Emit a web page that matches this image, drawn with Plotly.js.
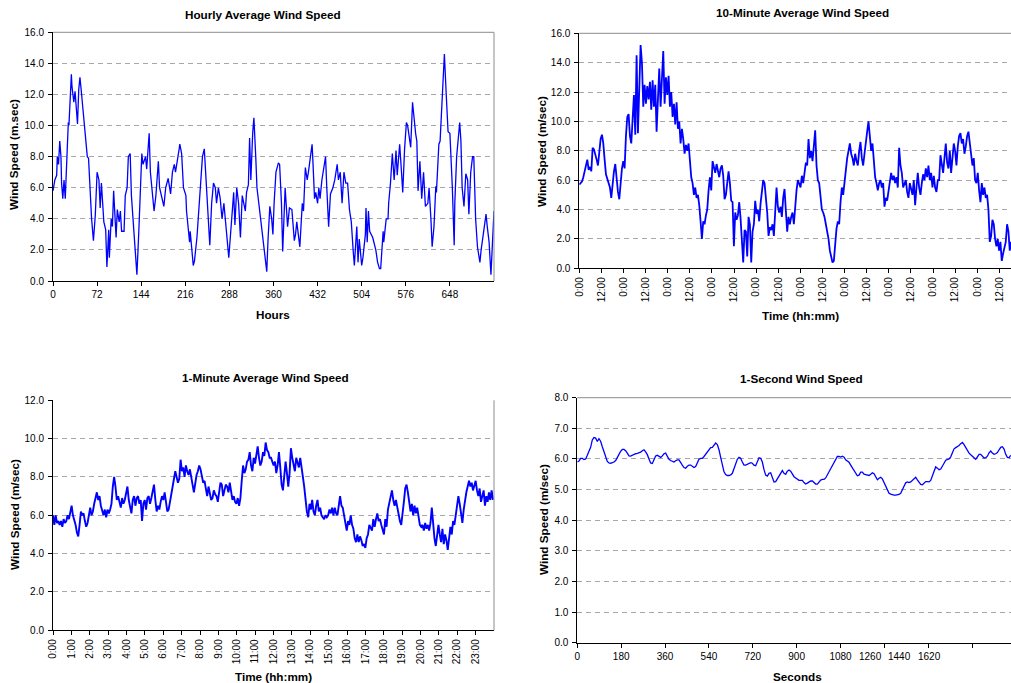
<!DOCTYPE html>
<html>
<head>
<meta charset="utf-8">
<script src="https://cdn.plot.ly/plotly-3.0.1.min.js"></script>
<style>html,body{margin:0;padding:0;background:#fff;}#chart{width:1011px;height:683px;}</style>
</head>
<body>
<div id="chart"></div>
<script>
// ---------------- DATA ----------------
// Hourly average wind speed (hour index, m/sec)
const hourlyHours = [
  0,3,6,7,9,11,13,14,16,18,20,22,25,26,28,30,31,34,36,40,
  42,44,46,51,54,56,58,61,63,66,69,72,75,77,79,83,86,88,91,92,
  95,97,99,103,105,108,110,112,116,118,121,123,126,128,131,134,137,140,142,145,
  147,151,153,157,159,162,165,168,172,174,178,181,184,188,192,195,198,200,206,207,
  210,213,217,218,223,224,229,231,235,237,241,244,247,251,256,259,262,265,267,270,
  273,276,279,287,289,295,297,300,303,306,309,314,316,319,321,323,326,328,331,333,
  336,339,343,345,346,349,351,354,357,359,361,364,368,370,373,375,379,383,386,390,
  394,396,398,400,403,407,409,412,415,417,420,423,424,427,429,432,434,436,439,443,
  445,447,450,453,457,460,464,466,469,472,475,478,481,484,487,490,492,496,498,500,
  504,506,510,511,513,515,517,522,527,530,533,535,539,540,544,547,548,551,554,557,
  560,562,566,569,571,574,577,579,584,587,589,592,594,596,599,602,605,608,612,614,
  617,619,622,625,626,630,632,636,639,642,645,648,650,652,655,656,659,664,666,668,
  671,674,677,679,682,685,687,690,693,697,699,703,707,709,712,715,717,720
];
const hourlySpeed = [
  5.8,6.5,6.8,8.0,7.5,9.0,8.0,6.3,5.3,6.5,5.3,7.0,10.2,10.0,11.5,13.3,12.5,11.5,12.2,10.1,
  12.3,13.1,12.3,10.2,9.0,8.0,7.9,5.3,4.0,2.6,4.2,7.0,6.5,4.7,6.3,3.8,3.3,0.9,3.3,1.5,
  4.0,3.5,5.8,2.8,4.6,3.8,4.5,3.2,3.2,5.5,6.0,8.0,8.2,5.5,3.8,2.0,0.4,3.1,5.0,8.2,
  7.5,8.0,7.2,9.5,7.0,5.7,4.5,5.5,7.7,6.0,5.4,4.8,6.0,6.6,5.6,7.0,7.5,7.0,8.5,8.8,
  8.2,6.0,5.5,4.5,2.5,3.2,1.0,1.3,2.8,4.0,6.0,8.0,8.5,5.5,2.3,5.0,6.3,6.0,5.0,6.0,
  5.3,4.0,5.0,1.5,2.5,5.7,3.6,6.0,5.0,2.8,5.5,4.5,5.7,6.2,9.2,6.5,9.5,10.5,8.0,6.0,
  5.0,4.0,2.5,2.0,1.5,0.6,2.6,4.8,4.0,3.0,5.0,7.0,7.6,7.5,5.0,1.9,6.0,3.5,4.7,4.6,
  2.6,3.0,3.8,3.2,2.2,5.0,4.5,7.3,6.5,7.0,8.0,8.8,8.0,5.3,5.7,5.0,6.0,5.3,6.5,7.5,
  8.0,6.0,3.5,5.6,6.0,6.5,7.5,6.5,7.0,5.0,7.0,6.3,6.3,4.6,3.8,2.0,1.0,3.5,1.2,2.7,
  1.0,1.5,3.0,4.7,2.5,4.5,3.2,2.8,2.0,1.2,0.8,0.8,3.2,2.5,4.0,4.0,5.0,6.3,8.2,6.5,
  8.4,6.8,8.8,7.0,5.7,8.5,10.2,10.0,8.6,11.5,10.5,9.5,9.0,5.8,7.7,5.3,7.0,4.8,5.0,6.0,
  4.0,2.2,3.5,6.1,5.7,8.8,9.0,12.0,14.6,12.0,9.6,9.5,7.8,6.0,2.3,5.0,8.0,10.2,9.0,6.0,
  4.8,6.9,6.5,4.3,7.0,8.0,8.0,4.0,2.2,1.2,2.0,3.0,4.3,3.5,2.5,0.4,2.5,4.5
];
const hourTicks = [0,72,144,216,288,360,432,504,576,648];

// 10-minute average wind speed, sampled every tenMinStepHours hours from 0:00 of day 1
const tenMinStepHours = 0.7233;
const tenMinSpeed = [
  5.7,5.8,5.9,6.2,6.6,7.0,7.4,6.7,6.9,6.6,8.2,8.1,7.8,7.4,7.0,8.2,8.8,9.1,8.5,7.4,
  6.4,6.1,5.8,5.5,4.8,5.8,6.6,7.1,5.8,5.2,4.7,5.8,6.8,7.3,6.8,
  9.0,10.3,10.5,9.0,8.5,10.8,11.8,9.1,14.5,9.2,13.0,15.2,14.0,
  11.0,12.5,11.2,12.4,11.5,12.7,10.8,12.8,11.0,12.5,
  9.3,11.5,13.6,11.0,12.8,14.8,11.2,13.0,11.8,13.1,
  11.0,12.0,10.3,11.2,9.8,11.3,9.5,10.0,8.5,9.5,
  8.8,7.8,8.4,8.0,8.5,7.5,6.2,5.8,5.0,5.5,
  4.8,5.0,4.3,3.2,2.0,3.2,3.0,3.6,4.0,5.3,
  6.2,5.3,7.3,6.9,6.5,7.1,6.6,6.2,6.8,7.0,
  6.3,4.7,5.0,5.9,6.6,5.8,4.6,4.5,1.5,3.8,
  3.3,3.6,4.5,3.4,1.5,0.4,2.6,2.5,0.8,3.5,
  3.0,0.4,2.5,3.0,4.6,3.7,4.0,3.2,4.4,5.2,
  6.0,5.8,5.0,3.8,2.2,2.8,2.6,3.0,2.2,4.2,
  5.5,4.2,3.8,4.2,3.5,4.8,5.4,3.9,2.5,3.5,
  3.0,3.5,
  3.8,3.0,4.5,5.3,6.0,5.8,5.5,6.3,5.8,6.5,7.2,7.0,8.8,
  7.5,8.0,7.3,8.2,9.4,7.0,6.0,5.8,5.0,4.0,
  3.8,3.5,3.0,2.5,2.0,1.2,0.7,0.4,0.5,2.0,
  2.7,3.2,3.0,4.5,5.5,5.0,6.0,6.8,7.5,8.0,
  8.5,7.8,7.5,7.0,7.8,7.3,7.0,8.0,8.6,7.5,
  7.0,7.8,8.8,9.3,10.0,9.0,8.0,8.5,7.5,6.2,
  5.8,5.3,5.8,6.0,5.5,5.8,4.2,4.8,4.6,5.2,
  5.8,6.5,6.0,6.3,5.8,6.2,5.5,8.2,7.0,6.5,
  5.5,5.8,6.0,5.2,4.8,5.8,5.3,5.0,6.0,4.3,
  5.5,6.5,5.5,5.0,5.8,6.4,6.0,6.8,6.2,7.0,
  6.0,6.5,5.5,6.3,5.5,5.2,6.0,6.0,7.7,7.2,
  6.5,7.5,8.5,7.2,6.8,8.0,6.5,7.5,8.5,8.0,
  7.0,8.3,9.0,9.2,8.5,8.8,7.8,8.3,9.0,9.3,
  8.5,8.0,7.0,7.5,6.0,5.8,6.5,5.3,4.5,5.8,
  5.0,5.5,4.8,5.0,4.0,1.8,2.2,3.3,3.0,2.0,
  1.5,2.0,1.2,1.8,0.5,1.0,1.5,1.8,3.0,2.5,
  1.2,1.8
];
const tenMinTickHours = [0,12,24,36,48,60,72,84,96,108,120,132,144,156,168,180,192,204,216,228];
const tenMinTickLabels = ['0:00','12:00','0:00','12:00','0:00','12:00','0:00','12:00','0:00','12:00',
                          '0:00','12:00','0:00','12:00','0:00','12:00','0:00','12:00','0:00','12:00'];

// 1-minute average wind speed, sampled every oneMinStepMinutes minutes over one day
const oneMinStepMinutes = 4.34;
const oneMinSpeed = [
  6.0,5.5,6.0,5.6,5.7,5.5,5.7,5.4,5.8,5.6,
  5.7,6.0,5.8,6.2,6.5,6.0,5.8,5.5,5.1,4.9,
  5.5,6.2,6.0,6.1,5.7,5.4,5.6,6.0,6.4,6.0,
  6.2,6.6,7.0,7.2,6.8,7.0,6.5,6.2,6.0,6.3,
  5.9,6.3,6.1,6.3,6.6,7.5,8.0,7.5,6.8,7.0,
  6.7,6.4,6.9,6.6,6.8,7.2,7.5,6.8,6.4,6.1,
  6.8,7.0,6.5,6.9,7.0,6.6,6.8,5.7,6.6,6.8,
  6.3,6.9,7.0,6.6,6.9,7.2,7.6,6.8,6.2,6.5,
  6.3,6.7,7.0,6.8,7.2,6.7,6.2,6.3,6.7,7.0,
  7.5,8.0,8.3,8.0,7.7,7.9,8.9,8.3,8.5,8.0,
  8.6,8.3,8.1,8.4,7.9,7.6,7.2,7.7,8.1,8.3,
  8.6,8.4,8.0,7.7,7.8,7.3,7.0,7.5,7.1,6.8,
  6.9,7.3,7.1,7.0,6.7,7.3,7.7,7.6,7.0,7.3,
  7.6,7.5,7.2,7.7,7.1,6.8,7.0,6.7,6.6,6.9,
  6.5,6.9,7.8,8.6,8.2,8.4,8.8,8.9,9.3,8.6,
  8.3,9.0,8.7,9.2,9.6,9.0,8.6,8.8,9.3,9.1,
  9.8,9.4,9.3,9.0,
  9.0,8.8,8.6,8.8,8.2,8.6,9.3,8.5,7.6,7.3,
  8.0,8.8,8.2,7.5,8.2,9.5,9.0,8.7,8.3,9.0,
  8.8,8.5,9.0,8.6,8.0,7.5,6.7,6.2,5.9,6.6,
  6.3,6.8,6.2,6.0,6.5,6.8,6.2,6.4,6.0,5.9,
  5.8,6.0,5.9,6.0,6.3,6.1,6.4,6.0,6.4,6.1,
  6.0,6.5,7.0,6.5,6.4,6.0,5.5,5.2,5.7,5.5,
  6.0,5.5,5.3,4.8,4.6,5.0,4.6,4.9,4.7,4.4,
  4.5,4.3,4.8,5.0,5.5,5.3,5.2,5.8,5.4,5.8,
  6.1,5.7,5.8,5.5,5.2,5.0,5.8,5.4,6.3,6.7,
  7.1,7.3,6.8,6.5,6.8,6.4,5.9,5.7,5.5,6.0,
  6.7,7.4,7.6,7.2,6.8,6.2,6.6,6.0,6.5,6.1,
  6.4,6.0,5.5,5.4,5.5,5.2,5.6,5.3,5.5,5.2,
  5.6,6.4,5.5,4.8,4.4,5.0,5.5,5.0,4.6,5.3,
  4.5,5.0,4.7,4.2,4.8,5.4,5.0,5.7,5.5,6.0,
  6.5,7.0,6.6,6.0,5.6,6.3,6.8,7.2,7.5,7.8,
  7.5,7.7,7.3,7.6,7.8,7.3,7.0,7.4,6.7,7.0,
  7.3,6.5,7.0,6.7,7.2,6.8,7.3,6.8
];
const oneMinTickMinutes = [0,60,120,180,240,300,360,420,480,540,600,660,720,780,840,900,960,1020,1080,1140,1200,1260,1320,1380];
const oneMinTickLabels = ['0:00','1:00','2:00','3:00','4:00','5:00','6:00','7:00','8:00','9:00','10:00','11:00',
                          '12:00','13:00','14:00','15:00','16:00','17:00','18:00','19:00','20:00','21:00','22:00','23:00'];

// 1-second wind speed, sampled every oneSecStepSeconds seconds
const oneSecStepSeconds = 6.84;
const oneSecSpeed = [
  5.9,5.93,6.02,6.02,5.98,6.0,6.12,6.25,6.38,6.62,
  6.7,6.68,6.57,6.66,6.58,6.4,6.23,6.07,5.92,5.87,
  5.86,5.88,5.9,5.95,6.03,6.15,6.25,6.31,6.31,6.27,
  6.19,6.1,6.09,6.12,6.16,6.17,6.18,6.2,6.22,6.27,
  6.3,6.23,6.14,6.0,5.87,5.85,5.97,6.1,6.12,6.07,
  6.05,6.1,6.17,6.19,6.1,5.99,5.95,5.92,5.9,5.94,
  5.97,5.97,5.9,5.8,5.72,5.7,5.76,5.8,5.8,5.77,
  5.72,5.75,5.89,5.99,6.02,6.02,6.08,6.16,6.25,6.33,
  6.37,6.38,6.46,6.52,6.47,6.3,6.05,5.75,5.58,5.49,
  5.46,5.46,5.48,5.53,5.67,5.85,5.99,6.05,6.02,5.9,
  5.8,5.8,5.82,5.86,5.88,5.86,5.8,5.78,5.9,6.04,
  6.02,5.9,5.65,5.47,5.44,5.53,5.55,5.38,5.25,5.26,
  5.35,5.45,5.57,5.62,5.53,5.5,5.6,5.64,5.6,5.5,
  5.42,5.38,5.33,5.3,5.3,5.3,5.23,5.18,5.21,5.24,
  5.28,5.28,5.23,5.18,5.18,5.25,5.31,5.33,5.33,5.38,
  5.48,5.58,5.7,5.77,5.85,5.97,6.08,6.08,6.06,6.09,
  6.06,5.97,5.94,5.89,5.8,5.7,5.62,5.53,5.45,5.47,
  5.57,5.57,5.5,5.49,5.47,5.46,5.5,5.55,5.52,5.4,
  5.32,5.37,5.4,5.35,5.23,5.1,4.96,4.88,4.85,4.83,
  4.82,4.82,4.82,4.84,4.88,4.99,5.12,5.22,5.25,5.23,
  5.25,5.3,5.37,5.4,5.32,5.25,5.17,5.16,5.21,5.26,
  5.26,5.25,5.3,5.44,5.63,5.74,5.7,5.65,5.67,5.75,
  5.86,5.96,5.98,6.0,6.07,6.22,6.33,6.37,6.4,6.44,
  6.5,6.54,6.47,6.37,6.25,6.19,6.14,6.09,6.02,5.99,
  6.07,6.15,6.15,6.09,6.03,6.04,6.09,6.2,6.26,6.19,
  6.15,6.17,6.21,6.3,6.38,6.4,6.32,6.15,6.05,6.04,
  6.12
];
const oneSecTickSeconds = [0,180,360,540,720,900,1080,1260,1440,1620];
const oneSecTickLabels  = ['0','180','360','540','720','900','1080','','',''];
// the source chart shows its last three labels squeezed, off their tick marks
const oneSecLateLabels  = ['1260','1440','1620'];
const oneSecLateLabelAt = [1204,1324,1444];

// ---------------- LAYOUT ----------------
const W = 1011, H = 683;
const FONT = '"Liberation Sans", Arial, sans-serif';
const fx = v => v / W;
const fy = v => 1 - v / H;
const BLUE = '#0000ff';
const GRID = '#a8a8a8';
const BORDER = '#8c8c8c';

const axisBase = {
  showline: true, linecolor: '#000', linewidth: 1,
  ticks: 'outside', ticklen: 4, tickwidth: 1, tickcolor: '#000',
  zeroline: false, showgrid: false, fixedrange: true,
  tickfont: {family: FONT, size: 10, color: '#000'}
};
const yBase = Object.assign({}, axisBase, {
  showgrid: true, gridcolor: GRID, gridwidth: 1, griddash: '5px,4px',
  tickformat: '.1f', ticklabelstandoff: 2
});

const traces = [
  {type: 'scatter', mode: 'lines', x: hourlyHours, y: hourlySpeed, xaxis: 'x', yaxis: 'y',
   line: {color: BLUE, width: 1.3}},
  {type: 'scatter', mode: 'lines', x0: 0, dx: tenMinStepHours, y: tenMinSpeed, xaxis: 'x2', yaxis: 'y2',
   line: {color: BLUE, width: 1.8}},
  {type: 'scatter', mode: 'lines', x0: 0, dx: oneMinStepMinutes, y: oneMinSpeed, xaxis: 'x3', yaxis: 'y3',
   line: {color: BLUE, width: 1.9}},
  {type: 'scatter', mode: 'lines', x0: 0, dx: oneSecStepSeconds, y: oneSecSpeed, xaxis: 'x4', yaxis: 'y4',
   line: {color: BLUE, width: 1.3}}
];

const layout = {
  width: W, height: H, autosize: false,
  margin: {l: 0, r: 0, t: 0, b: 0, pad: 0},
  paper_bgcolor: '#fff', plot_bgcolor: '#fff',
  showlegend: false, hovermode: false,
  font: {family: FONT, size: 10, color: '#000'},

  xaxis: Object.assign({}, axisBase, {domain: [fx(53), fx(494)], anchor: 'y', range: [0, 720],
    tickmode: 'array', tickvals: hourTicks, ticktext: hourTicks.map(String)}),
  yaxis: Object.assign({}, yBase, {domain: [fy(281), fy(32.3)], anchor: 'x', range: [0, 16], dtick: 2, tick0: 0}),

  xaxis2: Object.assign({}, axisBase, {domain: [fx(579.3), 1], anchor: 'y2', range: [0, 234.3],
    tickmode: 'array', tickvals: tenMinTickHours, ticktext: tenMinTickLabels, tickangle: -90}),
  yaxis2: Object.assign({}, yBase, {domain: [fy(268.3), fy(33.3)], anchor: 'x2', range: [0, 16], dtick: 2, tick0: 0}),

  xaxis3: Object.assign({}, axisBase, {domain: [fx(53), fx(494)], anchor: 'y3', range: [0, 1440],
    tickmode: 'array', tickvals: oneMinTickMinutes, ticktext: oneMinTickLabels, tickangle: -90}),
  yaxis3: Object.assign({}, yBase, {domain: [fy(630.3), fy(400.3)], anchor: 'x3', range: [0, 12], dtick: 2, tick0: 0}),

  xaxis4: Object.assign({}, axisBase, {domain: [fx(577.3), 1], anchor: 'y4', range: [0, 1779.5],
    tickmode: 'array', tickvals: oneSecTickSeconds, ticktext: oneSecTickLabels}),
  yaxis4: Object.assign({}, yBase, {domain: [fy(642.7), fy(397.7)], anchor: 'x4', range: [0, 8], dtick: 1, tick0: 0}),

  shapes: [
    {type: 'line', xref: 'x domain', yref: 'y domain', x0: 0, x1: 1, y0: 1, y1: 1, line: {color: BORDER, width: 1}},
    {type: 'line', xref: 'x domain', yref: 'y domain', x0: 1, x1: 1, y0: 0, y1: 1, line: {color: BORDER, width: 1}},
    {type: 'line', xref: 'x2 domain', yref: 'y2 domain', x0: 0, x1: 1, y0: 1, y1: 1, line: {color: BORDER, width: 1}},
    {type: 'line', xref: 'x3 domain', yref: 'y3 domain', x0: 1, x1: 1, y0: 0, y1: 1, line: {color: BORDER, width: 1}},
    {type: 'line', xref: 'x4 domain', yref: 'y4 domain', x0: 0, x1: 1, y0: 1, y1: 1, line: {color: BORDER, width: 1}}
  ],

  annotations: []
};

function label(text, x, y, opts) {
  layout.annotations.push(Object.assign({
    text: text, xref: 'paper', yref: 'paper', x: fx(x), y: fy(y),
    xanchor: 'center', yanchor: 'middle', showarrow: false,
    font: {family: FONT, size: 11.7, color: '#000'}
  }, opts || {}));
}
// chart titles
label('<b>Hourly Average Wind Speed</b>', 263, 15);
label('<b>10-Minute Average Wind Speed</b>', 802, 12.5);
label('<b>1-Minute Average Wind Speed</b>', 265, 377);
label('<b>1-Second Wind Speed</b>', 801, 378);
// axis titles
label('<b>Hours</b>', 273, 314);
label('<b>Time (hh:mm)</b>', 800, 315);
label('<b>Time (hh:mm)</b>', 273, 676);
label('<b>Seconds</b>', 797, 676);
label('<b>Wind Speed (m.sec)</b>', 14, 155, {textangle: -90});
label('<b>Wind Speed (m/sec)</b>', 541, 152, {textangle: -90});
label('<b>Wind Speed (m/sec)</b>', 14, 515, {textangle: -90});
label('<b>Wind Speed (m/sec)</b>', 543, 520, {textangle: -90});
// squeezed late tick labels of the 1-second chart
oneSecLateLabels.forEach((t, i) => {
  layout.annotations.push({
    text: t, xref: 'x4', yref: 'paper', x: oneSecLateLabelAt[i], y: fy(656.5),
    xanchor: 'center', yanchor: 'middle', showarrow: false,
    font: {family: FONT, size: 10, color: '#000'}
  });
});

Plotly.newPlot('chart', traces, layout, {staticPlot: true, displayModeBar: false});
</script>
</body>
</html>
